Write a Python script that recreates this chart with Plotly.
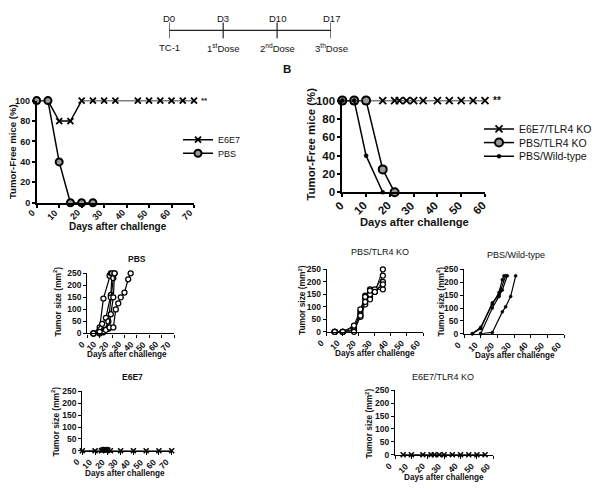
import plotly.graph_objects as go

W, H = 603, 489
def fx(p): return p / W
def fy(p): return 1 - p / H

FONT = "Liberation Sans, Arial, Helvetica, sans-serif"

# ---------------- data ----------------
timeline_days = ["D0", "D3", "D10", "D17"]
timeline_events = ["TC-1", "1<sup>st</sup>Dose", "2<sup>nd</sup>Dose", "3<sup>th</sup>Dose"]

# Panel A: tumor-free survival
a_days_e6e7 = [0, 5, 10, 15, 20, 25, 30, 35, 45, 50, 55, 60, 65, 70]
a_free_e6e7 = [100, 100, 80, 80, 100, 100, 100, 100, 100, 100, 100, 100, 100, 100]
a_days_pbs = [0, 5, 10, 15, 20, 25]
a_free_pbs = [100, 100, 40, 0, 0, 0]

# Panel B: tumor-free survival
b_days_e6e7_ko = [0, 5, 10, 17, 22, 24, 27, 30, 34, 40, 45, 50, 55, 60]
b_free_e6e7_ko = [100, 100, 100, 100, 100, 100, 100, 100, 100, 100, 100, 100, 100, 100]
b_days_pbs_ko = [0, 5, 10, 17, 22]
b_free_pbs_ko = [100, 100, 100, 25, 0]
b_days_pbs_wt = [0, 5, 10, 17]
b_free_pbs_wt = [100, 100, 40, 0]

# Tumor growth, individual mice
pbs_days = [[5, 10, 13, 18, 19],
            [5, 12, 15, 19, 20],
            [10, 14, 17, 19, 21, 22],
            [13, 17, 19, 21, 22],
            [5, 10, 15, 18, 21, 23, 25, 27, 30, 33, 35]]
pbs_size = [[0, 25, 145, 240, 250],
            [0, 40, 65, 160, 250],
            [0, 15, 50, 150, 230, 250],
            [5, 20, 80, 150, 250],
            [0, 7, 15, 25, 25, 100, 125, 150, 170, 225, 250]]

ko_days = [[5, 10, 17, 21, 24, 27, 30, 35]] * 5
ko_size = [[0, 0, 5, 60, 110, 140, 160, 250],
           [0, 0, 10, 80, 145, 170, 165, 225],
           [0, 0, 20, 70, 130, 150, 160, 200],
           [0, 0, 25, 90, 140, 165, 170, 170],
           [0, 0, 0, 65, 120, 130, 160, 190]]

wt_days = [[5, 10, 17, 21, 23, 24],
           [5, 10, 17, 21, 22, 25],
           [10, 17, 21, 23, 26],
           [10, 17, 23, 25, 28, 31]]
wt_size = [[0, 25, 115, 160, 210, 225],
           [0, 20, 120, 150, 170, 225],
           [0, 100, 145, 170, 225],
           [0, 5, 85, 105, 145, 225]]

e6e7_days = [0, 10, 15, 16, 17, 18, 19, 20, 22, 30, 40, 50, 60, 70]
e6e7_size = [0, 0, 0, 3, 5, 5, 4, 3, 0, 0, 0, 0, 0, 0]

e6e7ko_days = [5, 10, 17, 22, 24, 27, 30, 35, 40, 45, 50, 55]
e6e7ko_size = [0, 0, 0, 0, 0, 0, 0, 0, 0, 0, 0, 0]

# ---------------- figure ----------------
fig = go.Figure()

def line_trace(x, y, ax, symbol, size, name=None, legend=None, lw=1.5, mlw=1.5, fill="black"):
    return go.Scatter(
        x=x, y=y, xaxis="x" + ax if ax != "1" else "x", yaxis="y" + ax if ax != "1" else "y",
        mode="lines+markers", name=name, showlegend=legend is not None,
        legend=legend if legend else "legend",
        line=dict(color="black", width=lw),
        marker=dict(symbol=symbol, size=size, color=fill, line=dict(color="black", width=mlw)),
        cliponaxis=False, hoverinfo="skip")

# Panel A
fig.add_trace(line_trace(a_days_e6e7, a_free_e6e7, "1", "x-thin", 6, "E6E7", "legend", mlw=1.8))
fig.add_trace(line_trace(a_days_pbs, a_free_pbs, "1", "circle", 7, "PBS", "legend3", fill="#9a9a9a", mlw=2))
# Panel B
fig.add_trace(line_trace(b_days_e6e7_ko, b_free_e6e7_ko, "2", "x-thin", 7, "E6E7/TLR4 KO", "legend2", mlw=1.8))
fig.add_trace(line_trace(b_days_pbs_ko, b_free_pbs_ko, "2", "circle", 8, "PBS/TLR4 KO", "legend4", fill="#9a9a9a", mlw=2))
fig.add_trace(line_trace(b_days_pbs_wt, b_free_pbs_wt, "2", "circle", 4, "PBS/Wild-type", "legend5", mlw=0.5))

# Growth panels
for xs, ys in zip(pbs_days, pbs_size):
    fig.add_trace(line_trace(xs, ys, "3", "circle", 5, fill="white", lw=1.2, mlw=1.3))
for xs, ys in zip(ko_days, ko_size):
    fig.add_trace(line_trace(xs, ys, "4", "circle", 5, fill="white", lw=1.0, mlw=1.3))
for xs, ys in zip(wt_days, wt_size):
    fig.add_trace(line_trace(xs, ys, "5", "circle", 3, lw=1.2, mlw=0.5))
fig.add_trace(line_trace(e6e7_days, e6e7_size, "6", "x-thin", 5, lw=1.2, mlw=1.5))
fig.add_trace(line_trace(e6e7ko_days, e6e7ko_size, "7", "x-thin", 5, lw=1.2, mlw=1.5))

# Timeline (events placed at equal spacing by index)
idx = list(range(len(timeline_days)))
fig.add_trace(go.Scatter(x=[idx[0], idx[-1]], y=[0, 0], xaxis="x8", yaxis="y8", mode="lines",
                         line=dict(color="#222", width=1.2), showlegend=False, hoverinfo="skip", cliponaxis=False))
tx, ty = [], []
for i in idx:
    tx += [i, i, None]
    ty += [-0.9, 0.9, None]
fig.add_trace(go.Scatter(x=tx, y=ty, xaxis="x8", yaxis="y8", mode="lines",
                         line=dict(color="#222", width=1.2), showlegend=False, hoverinfo="skip", cliponaxis=False))

# ---------------- axes ----------------
def axis_common(lw, fs):
    return dict(showline=True, linecolor="black", linewidth=lw, ticks="outside", ticklen=3,
                tickwidth=lw, tickcolor="black", showgrid=False, zeroline=False,
                tickfont=dict(size=fs, family=FONT, color="#111", weight="bold"), fixedrange=True)

panels = {
    "1": dict(xd=(36.7, 194), yd=(201.7, 97), xr=70, yr=100, ydt=20, lw=1.5, fs=9, sh=(3, -2)),
    "2": dict(xd=(342.3, 485), yd=(191, 97), xr=60, yr=100, ydt=20, lw=1.8, fs=11.5, sh=(6, -4)),
    "3": dict(xd=(87.3, 174), yd=(335.7, 274), xr=70, yr=250, ydt=50, lw=1.2, fs=8.5, sh=(2, -3)),
    "4": dict(xd=(326.7, 423), yd=(334, 270), xr=60, yr=250, ydt=50, lw=1.2, fs=8.5, sh=(2, -3)),
    "5": dict(xd=(464, 564), yd=(336, 270), xr=60, yr=250, ydt=50, lw=1.2, fs=8.5, sh=(2, -3)),
    "6": dict(xd=(82.3, 171.7), yd=(456, 395), xr=70, yr=250, ydt=50, lw=1.2, fs=8.5, sh=(2, -3)),
    "7": dict(xd=(395, 493.3), yd=(460, 394), xr=60, yr=250, ydt=50, lw=1.2, fs=8.5, sh=(2, -3)),
}

ann = []
def text(x, y, s, size, bold=True, angle=0, xanchor="center", yanchor="middle",
         xref="paper", yref="paper", xshift=0, yshift=0):
    ann.append(dict(x=x, y=y, xref=xref, yref=yref, text=s, showarrow=False, textangle=angle,
                    xanchor=xanchor, yanchor=yanchor, xshift=xshift, yshift=yshift,
                    font=dict(size=size, family=FONT, color="#111", weight="bold" if bold else "normal")))

layout_axes = {}
for k, p in panels.items():
    xn = "xaxis" if k == "1" else "xaxis" + k
    yn = "yaxis" if k == "1" else "yaxis" + k
    xref = "x" if k == "1" else "x" + k
    xticks = list(range(0, p["xr"] + 1, 10))
    xa = axis_common(p["lw"], p["fs"])
    xa.update(domain=[fx(p["xd"][0]), fx(p["xd"][1])], range=[0, p["xr"]],
              tickmode="array", tickvals=xticks, showticklabels=False,
              anchor="y" if k == "1" else "y" + k)
    ya = axis_common(p["lw"], p["fs"])
    ya.update(domain=[fy(p["yd"][0]), fy(p["yd"][1])], range=[0, p["yr"]],
              tickmode="array", tickvals=list(range(0, p["yr"] + 1, p["ydt"])),
              anchor="x" if k == "1" else "x" + k)
    layout_axes[xn] = xa
    layout_axes[yn] = ya
    # rotated x tick labels
    for v in xticks:
        text(v, fy(p["yd"][0]), str(v), p["fs"], angle=-45, xanchor="right", yanchor="top",
             xref=xref, xshift=p["sh"][0], yshift=p["sh"][1])

layout_axes["xaxis8"] = dict(domain=[fx(169.3), fx(331)], range=[0, 3], anchor="y8", fixedrange=True,
                             showline=False, showgrid=False, zeroline=False, showticklabels=False, ticks="")
layout_axes["yaxis8"] = dict(domain=[fy(34), fy(16)], range=[-1, 1], anchor="x8", fixedrange=True,
                             showline=False, showgrid=False, zeroline=False, showticklabels=False, ticks="")
fig.update_layout(**layout_axes)

# ---------------- annotations ----------------
tl_left, tl_right = 169.3, 331
for i in idx:
    px = tl_left + (tl_right - tl_left) * i / (len(idx) - 1)
    text(fx(px), fy(13), timeline_days[i], 9.5, bold=False)
    text(fx(px), fy(43), timeline_events[i], 9.5, bold=False)

# Axis titles
text(fx(118), fy(226), "Days after challenge", 10)
text(fx(12.7), fy(149), "Tumor-Free mice (%)", 9.6, angle=-90)
text(fx(414), fy(221), "Days after challenge", 11.2)
text(fx(311), fy(142), "Tumor-Free mice (%)", 11.4, angle=-90)

size_title = "Tumor size (mm<sup>2</sup>)"
for (cx, cy, tx_, ty_) in [(127, 357, 58, 303), (375, 356, 302.5, 302), (515, 358, 441, 303),
                           (125, 479, 56, 426), (444, 483, 369, 428)]:
    text(fx(cx), fy(cy), "Days after challenge", 8.2)
    text(fx(tx_), fy(ty_), size_title, 8.4, angle=-90)

# Panel titles
text(fx(137), fy(259), "PBS", 8.5)
text(fx(380), fy(252), "PBS/TLR4 KO", 9, bold=False)
text(fx(516), fy(255), "PBS/Wild-type", 9, bold=False)
text(fx(132), fy(380), "E6E7", 8.5)
text(fx(443), fy(380), "E6E7/TLR4 KO", 9, bold=False)

# Significance and panel letter
text(fx(199), fy(97), "**", 8, xanchor="left")
text(fx(491), fy(97), "**", 10, xanchor="left")
text(fx(287), fy(65), "B", 11.5)

def leg(x, y, fs):
    return dict(x=fx(x), y=fy(y), xanchor="left", yanchor="middle", bgcolor="rgba(0,0,0,0)",
                font=dict(size=fs, family=FONT, color="#111"), itemwidth=30, tracegroupgap=0)

fig.update_layout(
    width=W, height=H, margin=dict(l=0, r=0, t=0, b=0),
    paper_bgcolor="white", plot_bgcolor="white",
    font=dict(family=FONT, color="#111"),
    annotations=ann,
    legend=leg(178, 137, 9),
    legend3=leg(178, 151, 9),
    legend2=leg(479, 126, 10.5),
    legend4=leg(479, 140, 10.5),
    legend5=leg(479, 154, 10.5),
)

fig.write_html("out.html")
